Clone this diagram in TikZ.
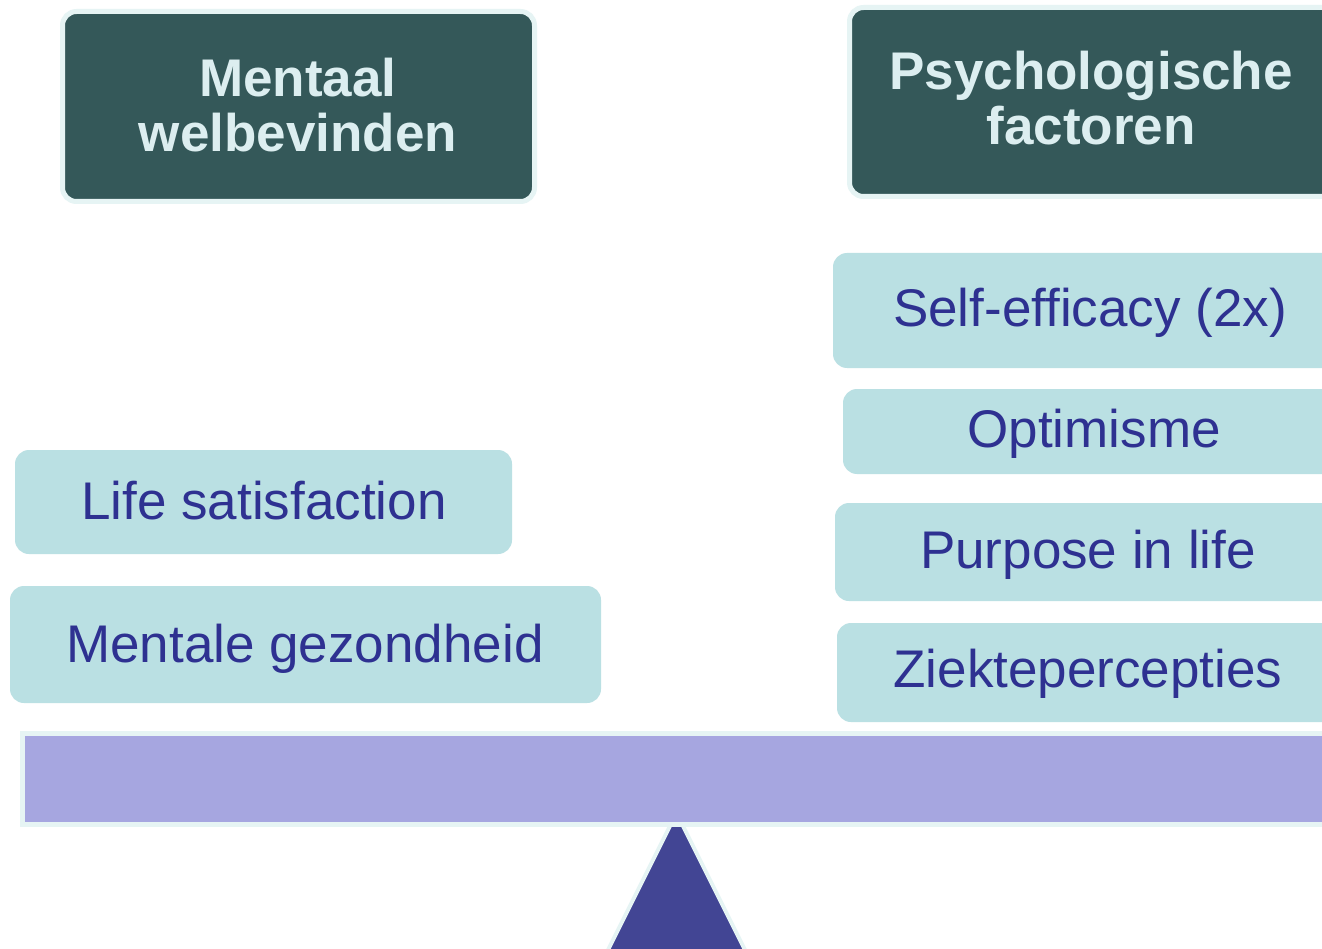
\documentclass[tikz,border=0pt]{standalone}
\usepackage{fontspec}
\setmainfont{Liberation Sans}
\definecolor{hdrdark}{HTML}{345859}
\definecolor{hdredge}{HTML}{E6F4F4}
\definecolor{hdrtxt}{HTML}{DCEEF0}
\definecolor{lightbox}{HTML}{BAE0E3}
\definecolor{bluetxt}{HTML}{2E3191}
\definecolor{beamfill}{HTML}{A6A6E0}
\definecolor{pivotfill}{HTML}{424594}
\tikzset{
  hdrbox/.style={fill=hdrdark, draw=hdredge, line width=5pt, rounded corners=14pt},
  hdrtext/.style={text=hdrtxt, font=\bfseries\fontsize{53}{55}\selectfont, align=center, inner sep=0pt},
  itembox/.style={fill=lightbox, rounded corners=14pt},
  itemtext/.style={text=bluetxt, font=\fontsize{53}{55}\selectfont, inner sep=0pt, anchor=base},
  beamstyle/.style={fill=beamfill, draw=hdredge, line width=5pt},
  pivotstyle/.style={fill=pivotfill, draw=hdredge, line width=4pt, line join=miter}
}
\begin{document}
\begin{tikzpicture}[x=1pt,y=-1pt]
\useasboundingbox (0,0) rectangle (1322,949);
\clip (0,0) rectangle (1322,949);
\fill[white] (0,0) rectangle (1322,949);

% header boxes
\draw[hdrbox] (62.5,11.5) rectangle (534.5,201.5);
\node[hdrtext, anchor=north] (hleft) at (298,58) {Mentaal\\welbevinden};
\draw[hdrbox] (849.5,7.5) rectangle (1345,196.5);
\node[hdrtext, anchor=north] (hright) at (1091,51) {Psychologische\\factoren};

% left items
\fill[itembox] (15,450) rectangle (512,554);
\node[itemtext] (ls) at (264,519) {Life satisfaction};
\fill[itembox] (10,586) rectangle (601,703);
\node[itemtext] (mg) at (305,662) {Mentale gezondheid};

% right items
\fill[itembox] (833,253) rectangle (1345,368);
\node[itemtext] (se) at (1090,327) {Self-efficacy (2x)};
\fill[itembox] (843,389) rectangle (1345,474);
\node[itemtext] (op) at (1094,447) {Optimisme};
\fill[itembox] (835,503) rectangle (1345,601);
\node[itemtext] (pl) at (1088,568) {Purpose in life};
\fill[itembox] (837,623) rectangle (1345,722);
\node[itemtext] (zp) at (1088,687) {Ziektepercepties};

% pivot and beam
\coordinate (apex) at (676.5,813);
\draw[pivotstyle] (apex) -- (580,1006) -- (773,1006) -- cycle;
\draw[beamstyle] (22.5,733.5) rectangle (1345,824.5);
\end{tikzpicture}
\end{document}
